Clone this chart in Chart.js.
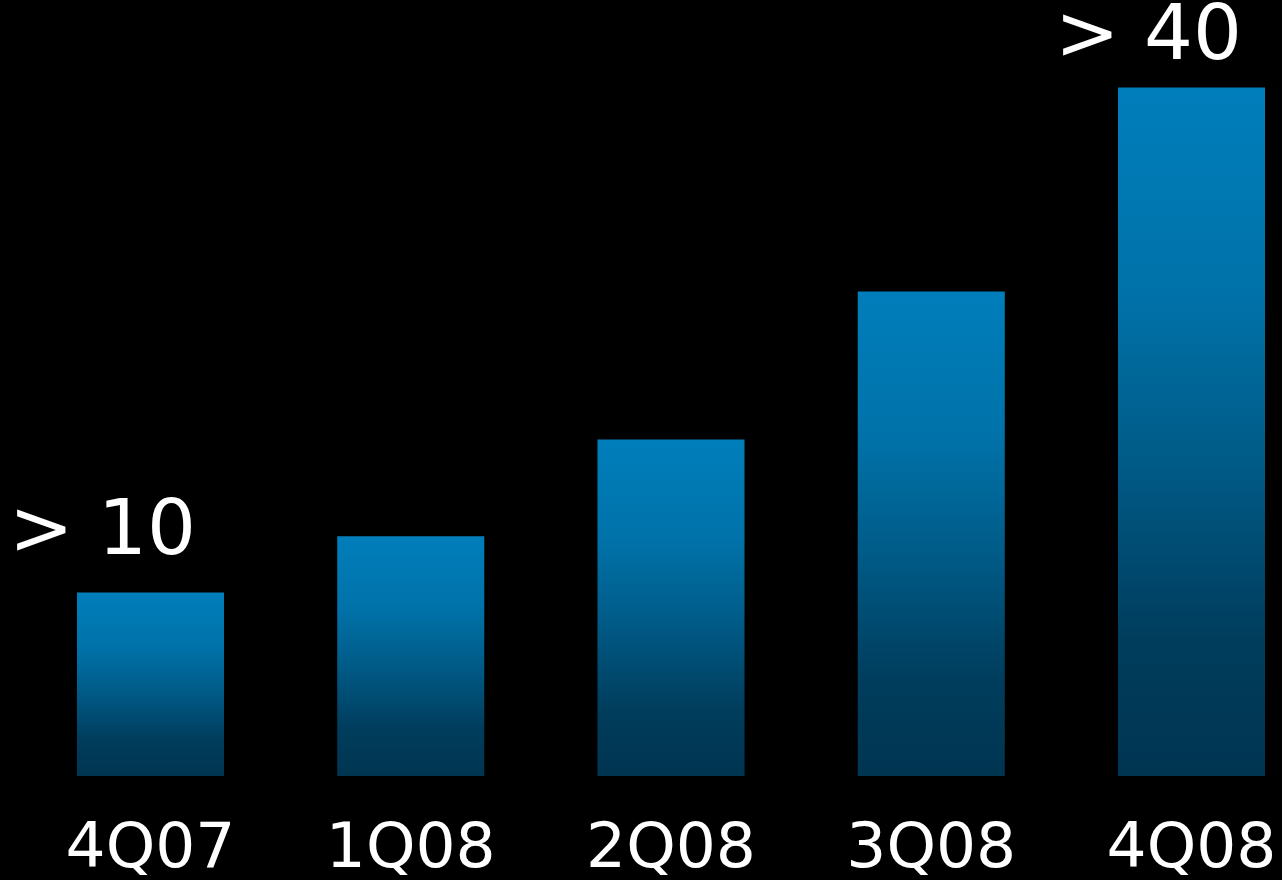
<!DOCTYPE html>
<html>
<head>
<meta charset="utf-8">
<script src="https://cdn.jsdelivr.net/npm/chart.js@4/dist/chart.umd.min.js"></script>
<style>
  html, body { margin: 0; padding: 0; background: #000; }
  #wrap { width: 1282px; height: 880px; }
</style>
</head>
<body>
<div id="wrap"><canvas id="c" width="1282" height="880"></canvas></div>
<script>
// Quarterly figures
const quarters = ['4Q07', '1Q08', '2Q08', '3Q08', '4Q08'];
const values = [10.8, 14.1, 19.8, 28.5, 40.5];
// Callout text shown above the first and last bars
const callouts = ['> 10', null, null, null, '> 40'];

const FONT = '"DejaVu Sans", Verdana, sans-serif';
// Callout placement relative to the bar's top-right corner
const calloutShift = { 0: [-28, -38], 4: [-23, -29] };

function barGradient(ctx) {
  const chart = ctx.chart;
  if (!chart.chartArea || ctx.type !== 'data') return '#0078b4';
  const y = chart.scales.y;
  const top = y.getPixelForValue(values[ctx.dataIndex]);
  const bottom = y.getPixelForValue(0);
  const g = chart.ctx.createLinearGradient(0, top, 0, bottom);
  g.addColorStop(0, '#007ebb');
  g.addColorStop(0.3, '#0072a9');
  g.addColorStop(0.55, '#005a86');
  g.addColorStop(0.8, '#003d5d');
  g.addColorStop(1, '#003551');
  return g;
}

const calloutPlugin = {
  id: 'callouts',
  afterDatasetsDraw(chart) {
    const c = chart.ctx;
    const meta = chart.getDatasetMeta(0);
    c.save();
    c.fillStyle = '#ffffff';
    c.font = '77px ' + FONT;
    c.textAlign = 'right';
    c.textBaseline = 'alphabetic';
    meta.data.forEach((bar, i) => {
      const t = callouts[i];
      if (!t) return;
      const s = calloutShift[i] || [-28, -33];
      c.fillText(t, bar.x + bar.width / 2 + s[0], bar.y + s[1]);
    });
    c.restore();
  }
};

new Chart(document.getElementById('c'), {
  type: 'bar',
  data: {
    labels: quarters,
    datasets: [{
      data: values,
      backgroundColor: barGradient,
      borderWidth: 0,
      categoryPercentage: 1,
      barPercentage: 0.565,
      clip: false
    }]
  },
  options: {
    responsive: false,
    animation: false,
    events: [],
    layout: { padding: { left: 150.5, right: 90.5, top: 0, bottom: 0 } },
    plugins: { legend: { display: false }, tooltip: { enabled: false } },
    scales: {
      x: {
        offset: false,
        grid: { display: false, drawTicks: false, tickLength: 0 },
        border: { display: false },
        ticks: {
          color: '#ffffff',
          font: { family: FONT, size: 63 },
          padding: 37,
          maxRotation: 0,
          autoSkip: false
        },
        afterFit(scale) {
          scale.height = 104;
          scale.paddingLeft = 0;
          scale.paddingRight = 0;
        }
      },
      y: {
        display: false,
        min: 0,
        max: 45.65
      }
    }
  },
  plugins: [calloutPlugin]
});
</script>
</body>
</html>
